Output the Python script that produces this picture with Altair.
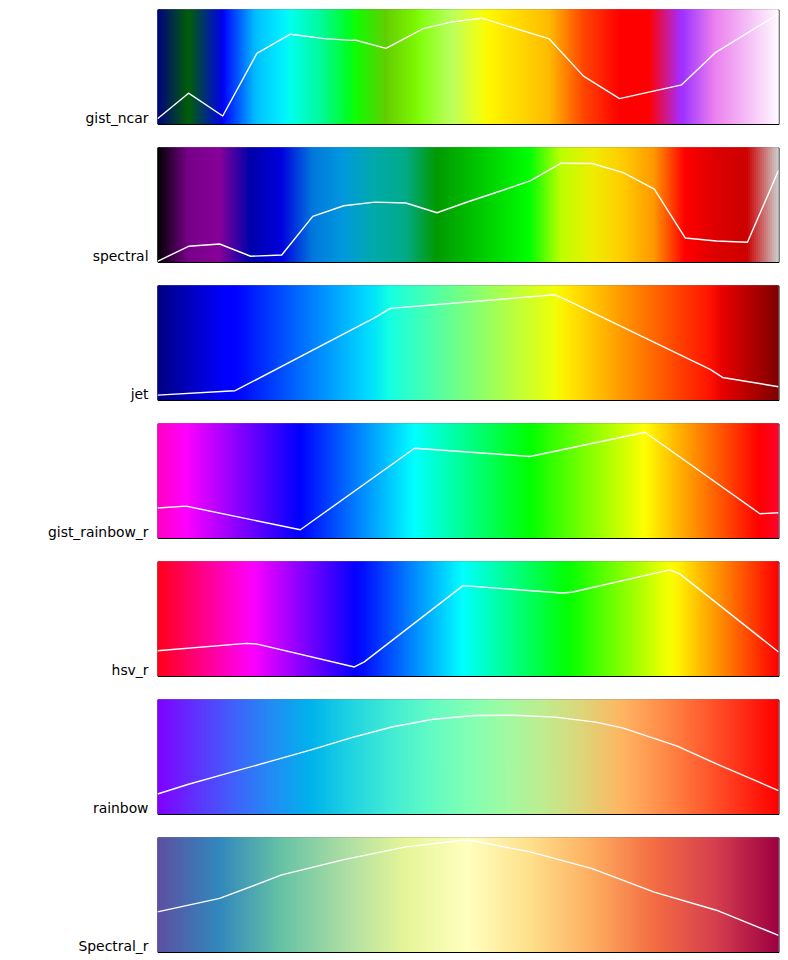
import altair as alt
import numpy as np
import pandas as pd

# ---------------- colormap definitions (position, value) per channel ----------------
gist_ncar_red = [(0.0, 0.0), (0.3098, 0.0), (0.3725, 0.3993), (0.4235, 0.5003), (0.5333, 1.0),
                 (0.7922, 1.0), (0.8471, 0.6218), (0.8980, 0.9235), (1.0, 0.9961)]
gist_ncar_green = [(0.0, 0.0), (0.0510, 0.3722), (0.1059, 0.0), (0.1569, 0.7202), (0.1608, 0.7537),
                   (0.1647, 0.7752), (0.2157, 1.0), (0.2588, 0.9804), (0.2706, 0.9804), (0.3176, 1.0),
                   (0.3686, 0.8081), (0.4275, 1.0), (0.5216, 1.0), (0.6314, 0.7292), (0.6863, 0.2796),
                   (0.7451, 0.0), (0.7922, 0.0), (0.8431, 0.1753), (0.8980, 0.5), (1.0, 0.9725)]
gist_ncar_blue = [(0.0, 0.5020), (0.0510, 0.0222), (0.1098, 1.0), (0.2039, 1.0), (0.2627, 0.6145),
                  (0.3216, 0.0), (0.4157, 0.0), (0.4745, 0.3705), (0.5333, 0.0), (0.7922, 0.0),
                  (0.8431, 1.0), (0.8980, 0.9341), (1.0, 0.9961)]

spectral_pos = [0.0, 0.05, 0.10, 0.15, 0.20, 0.25, 0.30, 0.35, 0.40, 0.45, 0.50,
                0.55, 0.60, 0.65, 0.70, 0.75, 0.80, 0.85, 0.90, 0.95, 1.0]
spectral_r = [0.0, 0.4667, 0.5333, 0.0, 0.0, 0.0, 0.0, 0.0, 0.0, 0.0, 0.0,
              0.0, 0.0, 0.7333, 0.9333, 1.0, 1.0, 1.0, 0.8667, 0.80, 0.80]
spectral_g = [0.0, 0.0, 0.0, 0.0, 0.0, 0.4667, 0.6000, 0.6667, 0.6667, 0.6000, 0.7333,
              0.8667, 1.0, 1.0, 0.9333, 0.8000, 0.6000, 0.0, 0.0, 0.0, 0.80]
spectral_b = [0.0, 0.5333, 0.6000, 0.6667, 0.8667, 0.8667, 0.8667, 0.6667, 0.5333, 0.0, 0.0,
              0.0, 0.0, 0.0, 0.0, 0.0, 0.0, 0.0, 0.0, 0.0, 0.80]

jet_red = [(0.0, 0.0), (0.35, 0.0), (0.66, 1.0), (0.89, 1.0), (1.0, 0.5)]
jet_green = [(0.0, 0.0), (0.125, 0.0), (0.375, 1.0), (0.64, 1.0), (0.91, 0.0), (1.0, 0.0)]
jet_blue = [(0.0, 0.5), (0.11, 1.0), (0.34, 1.0), (0.65, 0.0), (1.0, 0.0)]

gist_rainbow_pos = [0.000, 0.030, 0.215, 0.400, 0.586, 0.770, 0.954, 1.000]
gist_rainbow_col = ["#ff0029", "#ff0000", "#ffff00", "#00ff00", "#00ffff", "#0000ff", "#ff00ff", "#ff00bf"]

hsv_red = [(0.0, 1.0), (0.158730, 1.0), (0.174603, 0.96875), (0.333333, 0.03125), (0.349206, 0.0),
           (0.666667, 0.0), (0.682540, 0.03125), (0.841270, 0.96875), (0.857143, 1.0), (1.0, 1.0)]
hsv_green = [(0.0, 0.0), (0.158730, 0.9375), (0.174603, 1.0), (0.507937, 1.0), (0.666667, 0.0625),
             (0.682540, 0.0), (1.0, 0.0)]
hsv_blue = [(0.0, 0.0), (0.333333, 0.0), (0.349206, 0.0625), (0.507937, 1.0), (0.841270, 1.0),
            (0.857143, 0.9375), (1.0, 0.09375)]

rainbow_pos = [0.0, 0.0625, 0.125, 0.1875, 0.25, 0.3125, 0.375, 0.4375, 0.5,
               0.5625, 0.625, 0.6875, 0.75, 0.8125, 0.875, 0.9375, 1.0]
rainbow_col = ["#8000ff", "#6032fe", "#4062fa", "#208ef4", "#00b4eb", "#20d4e1", "#40ebd4",
               "#60fac5", "#80ffb4", "#a0faa2", "#c0eb8e", "#dfd478", "#ffb462", "#ff8e4a",
               "#ff6232", "#ff3219", "#ff0000"]

Spectral_col = ["#9e0142", "#d53e4f", "#f46d43", "#fdae61", "#fee08b", "#ffffbf",
                "#e6f598", "#abdda4", "#66c2a5", "#3288bd", "#5e4fa2"]

# ---------------- lightness lines ----------------
names = ["gist_ncar", "spectral", "jet", "gist_rainbow_r", "hsv_r", "rainbow", "Spectral_r"]

gist_ncar_x = [0.0, 0.050, 0.105, 0.160, 0.214, 0.269, 0.313, 0.318, 0.368, 0.428, 0.474,
               0.522, 0.631, 0.686, 0.744, 0.844, 0.899, 1.0]
gist_ncar_L = [4.6, 26.9, 7.0, 61.7, 78.4, 74.6, 73.0, 73.4, 66.1, 83.3, 89.2,
               92.4, 74.3, 41.8, 22.2, 34.2, 62.6, 96.2]

spectral_x = spectral_pos
spectral_L = [0.6, 13.7, 15.7, 5.0, 6.1, 39.8, 49.1, 52.3, 51.5, 43.0, 52.6,
              61.6, 70.9, 86.3, 86.0, 78.0, 63.7, 20.9, 18.3, 17.2, 79.9]

jet_x = [0.0, 0.11, 0.125, 0.34, 0.35, 0.375, 0.64, 0.65, 0.66, 0.89, 0.91, 1.0]
jet_L = [4.3, 7.7, 8.1, 69.0, 72.0, 80.0, 91.9, 89.5, 87.0, 26.7, 19.7, 11.6]

gist_rainbow_r_x = [0.0, 0.046, 0.23, 0.414, 0.6, 0.785, 0.97, 1.0]
gist_rainbow_r_L = [26.2, 27.8, 7.2, 78.4, 71.2, 92.4, 21.2, 22.0]

hsv_r_x = [0.0, 0.143, 0.159, 0.317, 0.333, 0.492, 0.651, 0.667, 0.825, 0.841, 1.0]
hsv_r_L = [22.0, 28.5, 28.0, 7.9, 12.3, 78.9, 72.5, 73.1, 92.7, 89.2, 21.0]

rainbow_x = [0.0, 0.05, 0.118, 0.183, 0.25, 0.314, 0.379, 0.444, 0.51, 0.575,
             0.64, 0.706, 0.75, 0.837, 0.902, 1.0]
rainbow_L = [17.5, 26.0, 36.3, 46.2, 56.5, 66.9, 76.2, 82.8, 86.0, 86.3,
             84.6, 80.2, 75.0, 59.3, 43.3, 20.5]

Spectral_r_x = [0.0, 0.1, 0.2, 0.3, 0.4, 0.5, 0.6, 0.7, 0.8, 0.9, 1.0]
Spectral_r_L = [35.1, 46.8, 67.3, 80.7, 91.8, 98.0, 87.4, 72.8, 52.3, 36.5, 14.6]


# ---------------- helpers to build colour stops ----------------
def to_hex(r, g, b):
    return "#%02x%02x%02x" % tuple(int(round(max(0, min(1, v)) * 255)) for v in (r, g, b))


def seg_stops(red, green, blue):
    pos = sorted(set(p for ch in (red, green, blue) for p, _ in ch))
    cols = []
    for p in pos:
        vals = [np.interp(p, [a for a, _ in ch], [v for _, v in ch]) for ch in (red, green, blue)]
        cols.append(to_hex(*vals))
    return pos, cols


def reverse(pos, cols):
    return [round(1 - p, 6) for p in pos[::-1]], cols[::-1]


stops = {
    "gist_ncar": seg_stops(gist_ncar_red, gist_ncar_green, gist_ncar_blue),
    "spectral": (spectral_pos, [to_hex(r, g, b) for r, g, b in zip(spectral_r, spectral_g, spectral_b)]),
    "jet": seg_stops(jet_red, jet_green, jet_blue),
    "gist_rainbow_r": reverse(gist_rainbow_pos, gist_rainbow_col),
    "hsv_r": reverse(*seg_stops(hsv_red, hsv_green, hsv_blue)),
    "rainbow": (rainbow_pos, rainbow_col),
    "Spectral_r": ([i / 10 for i in range(11)], Spectral_col[::-1]),
}
lines = {
    "gist_ncar": (gist_ncar_x, gist_ncar_L),
    "spectral": (spectral_x, spectral_L),
    "jet": (jet_x, jet_L),
    "gist_rainbow_r": (gist_rainbow_r_x, gist_rainbow_r_L),
    "hsv_r": (hsv_r_x, hsv_r_L),
    "rainbow": (rainbow_x, rainbow_L),
    "Spectral_r": (Spectral_r_x, Spectral_r_L),
}

N = 311
cells = pd.DataFrame({
    "x0": np.arange(N) / N,
    "x1": (np.arange(N) + 1) / N,
    "t": (np.arange(N) + 0.5) / N,
})

W, H = 621, 114.5
xs = alt.Scale(domain=[0, 1], nice=False, zero=False, padding=0)
ys = alt.Scale(domain=[0, 100], nice=False, zero=False)

panels = []
for name in names:
    pos, cols = stops[name]
    cscale = alt.Scale(domain=pos, range=cols, interpolate="rgb", clamp=True)
    grad = alt.Chart(cells).mark_rect(clip=True, strokeWidth=1.2).encode(
        x=alt.X("x0:Q", scale=xs, axis=None),
        x2="x1:Q",
        y=alt.Y(datum=0, scale=ys, axis=None),
        y2=alt.Y2(datum=100),
        fill=alt.Fill("t:Q", scale=cscale, legend=None),
        stroke=alt.Stroke("t:Q", scale=cscale, legend=None),
    )
    lx, lv = lines[name]
    line = alt.Chart(pd.DataFrame({"x": lx, "L": lv})).mark_line(
        color="white", strokeWidth=1.4, strokeJoin="round", clip=True
    ).encode(
        x=alt.X("x:Q", scale=xs, axis=None),
        y=alt.Y("L:Q", scale=ys, axis=None),
    )
    label = alt.Chart(pd.DataFrame({"name": [name]})).mark_text(
        align="right", baseline="alphabetic", font="DejaVu Sans", fontSize=13.9,
        color="black", dx=-9, dy=-1.5
    ).encode(
        x=alt.X(datum=0, scale=xs, axis=None),
        y=alt.Y(datum=0, scale=ys, axis=None),
        text="name:N",
    )
    panels.append(
        alt.layer(grad, line, label)
        .resolve_scale(fill="independent", stroke="independent")
        .properties(width=W, height=H)
    )

chart = alt.vconcat(*panels, spacing=23, bounds="flush").resolve_scale(
    fill="independent", stroke="independent"
).properties(
    padding={"left": 38.5, "top": 0.5, "right": 0, "bottom": 0},
    background="white",
).configure_view(stroke="black", strokeWidth=1)

chart.save("out.html", embed_options={"renderer": "svg", "actions": False})
